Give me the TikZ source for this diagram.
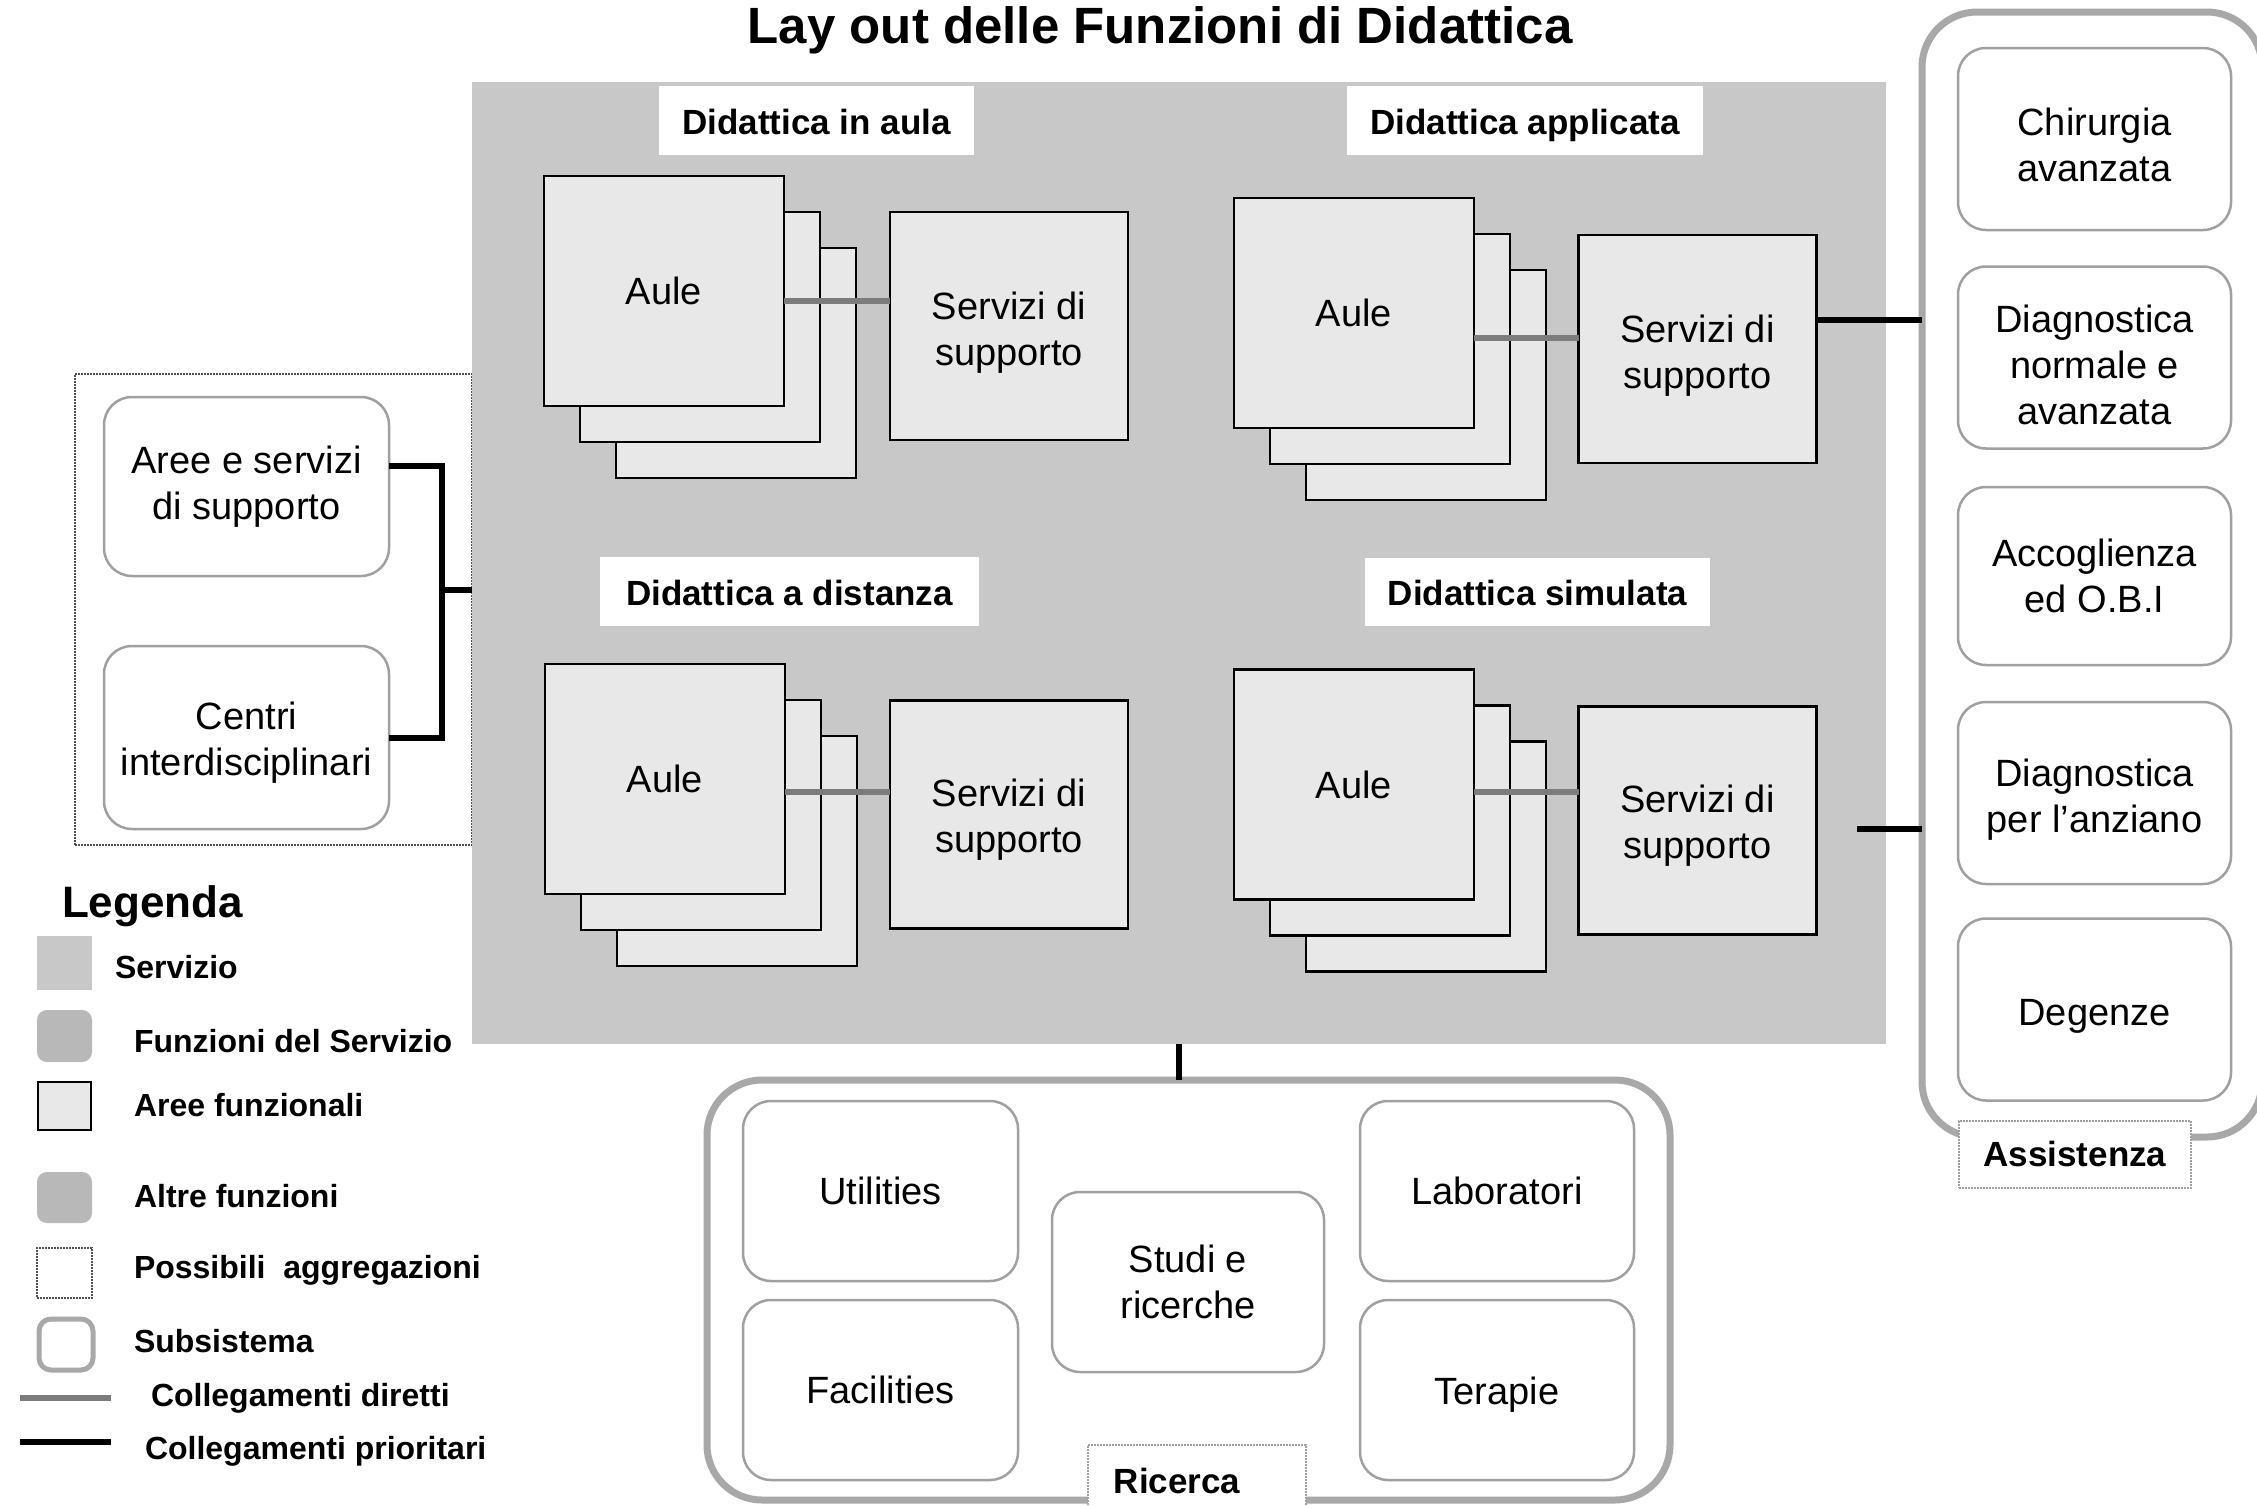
\documentclass[tikz,border=0pt]{standalone}
\usepackage{fontspec}
\setmainfont{Liberation Sans}
\definecolor{servgray}{HTML}{C8C8C8}
\definecolor{areagray}{HTML}{E8E8E8}
\definecolor{funzline}{HTML}{A0A0A0}
\definecolor{subgray}{HTML}{A8A8A8}
\definecolor{dirgray}{HTML}{7C7C7C}
\definecolor{agline}{HTML}{505050}
\definecolor{swgray}{HTML}{B8B8B8}
% invisible strut that lowers a centred box text a little
\newcommand\lift[1]{\rule{0pt}{#1}}
\begin{document}
\begin{tikzpicture}[x=1pt,y=-1pt,
  every node/.style={inner sep=0pt, outer sep=0pt},
  txt/.style={font=\fontsize{38}{46}\selectfont, align=center},
  head/.style={font=\bfseries\fontsize{35}{42}\selectfont, text height=30pt, text depth=7pt},
  servizio/.style={fill=servgray},
  area/.style={draw=black, line width=2.5pt, fill=areagray, txt},
  funz/.style={draw=funzline, line width=2.5pt, fill=white, rounded corners=28pt, txt},
  subsys/.style={draw=subgray, line width=7pt, rounded corners=55pt},
  aggr/.style={draw=agline, line width=2pt, densely dotted},
  hlabel/.style={fill=white, head, text height=34pt},
  sublabel/.style={fill=white, draw=funzline, line width=2pt, densely dotted},
  direct/.style={draw=dirgray, line width=6pt},
  priority/.style={draw=black, line width=6pt},
  leg/.style={anchor=west, font=\bfseries\fontsize{32}{38}\selectfont},
]
\useasboundingbox (0,0) rectangle (2257,1505);
\fill[white] (0,0) rectangle (2257,1505);

% title
\node[font=\bfseries\fontsize{51}{60}\selectfont] (title) at (1160,30) {Lay out delle Funzioni di Didattica};

% aggregation frame on the left
\node[aggr, minimum width=397pt, minimum height=471pt] (agg) at (273.5,609.5) {};
\node[funz, minimum width=285pt, minimum height=179pt] (aree) at (246.5,486.5) {Aree e servizi\\di supporto};
\node[funz, minimum width=285pt, minimum height=183pt] (centri) at (246.5,737.5) {\lift{37pt}Centri\\interdisciplinari};

% service area
\node[servizio, minimum width=1414pt, minimum height=962pt] (serv) at (1179,563) {};

% left priority links
\coordinate (lj) at (442,590);
\coordinate (la) at ([yshift=21pt]aree.east);
\draw[priority] (la) -| (lj) |- (centri.east);
\draw[priority] (lj) -- (lj -| serv.west);

% section headings
\node[hlabel, minimum width=315pt, minimum height=69pt] (hTL) at (816.5,120.5) {Didattica in aula};
\node[hlabel, minimum width=356pt, minimum height=69pt] (hTR) at (1525,120.5) {Didattica applicata};
\node[hlabel, minimum width=379pt, minimum height=69pt] (hBL) at (789.5,591.5) {Didattica a distanza};
\node[hlabel, minimum width=345pt, minimum height=68pt] (hBR) at (1537.5,592) {Didattica simulata};

% Didattica in aula
\node[area, minimum width=240pt, minimum height=230pt] (aTL3) at (736,363) {};
\node[area, minimum width=240pt, minimum height=230pt] (aTL2) at (700,327) {};
\node[area, minimum width=240pt, minimum height=230pt] (aTL1) at (664,291) {Aule};
\node[area, minimum width=238pt, minimum height=228pt] (sTL) at (1009,326) {\lift{40pt}Servizi di\\supporto};
\coordinate (cTL) at ([yshift=-10pt]aTL1.east);
\draw[direct] (cTL) -- (cTL -| sTL.west);

% Didattica applicata
\node[area, minimum width=240pt, minimum height=230pt] (aTR3) at (1426,385) {};
\node[area, minimum width=240pt, minimum height=230pt] (aTR2) at (1390,349) {};
\node[area, minimum width=240pt, minimum height=230pt] (aTR1) at (1354,313) {Aule};
\node[area, minimum width=238pt, minimum height=228pt] (sTR) at (1697.5,349) {\lift{40pt}Servizi di\\supporto};
\coordinate (cTR) at ([yshift=-25pt]aTR1.east);
\draw[direct] (cTR) -- (cTR -| sTR.west);

% Didattica a distanza
\node[area, minimum width=240pt, minimum height=230pt] (aBL3) at (737,851) {};
\node[area, minimum width=240pt, minimum height=230pt] (aBL2) at (701,815) {};
\node[area, minimum width=240pt, minimum height=230pt] (aBL1) at (665,779) {Aule};
\node[area, minimum width=238pt, minimum height=228pt] (sBL) at (1009,814.5) {\lift{37pt}Servizi di\\supporto};
\coordinate (cBL) at ([yshift=-13pt]aBL1.east);
\draw[direct] (cBL) -- (cBL -| sBL.west);

% Didattica simulata
\node[area, minimum width=240pt, minimum height=230pt] (aBR3) at (1426,856.5) {};
\node[area, minimum width=240pt, minimum height=230pt] (aBR2) at (1390,820.5) {};
\node[area, minimum width=240pt, minimum height=230pt] (aBR1) at (1354,784.5) {Aule};
\node[area, minimum width=238pt, minimum height=228pt] (sBR) at (1697.5,820.5) {\lift{37pt}Servizi di\\supporto};
\coordinate (cBR) at ([yshift=-7.5pt]aBR1.east);
\draw[direct] (cBR) -- (cBR -| sBR.west);

% Assistenza subsystem
\node[subsys, minimum width=340pt, minimum height=1125pt] (ass) at (2092,574.5) {};
\node[funz, minimum width=273pt, minimum height=182pt] (chir) at (2094.5,139) {\lift{40pt}Chirurgia\\avanzata};
\node[funz, minimum width=273pt, minimum height=182pt] (diag) at (2094.5,357.5) {\lift{42pt}Diagnostica\\normale e\\avanzata};
\node[funz, minimum width=273pt, minimum height=178pt] (acc) at (2094.5,576) {Accoglienza\\ed O.B.I};
\node[funz, minimum width=273pt, minimum height=182pt] (anz) at (2094.5,793) {\lift{40pt}Diagnostica\\per l’anziano};
\node[funz, minimum width=273pt, minimum height=182pt] (deg) at (2094.5,1009.5) {\lift{39pt}Degenze};
\node[sublabel, minimum width=232pt, minimum height=67pt] (assL) at (2075,1154.5) {};
\node[head] (assT) at (2075,1155) {Assistenza};
\coordinate (cA1) at ([yshift=29pt]sTR.east);
\draw[priority] (cA1) -- (cA1 -| ass.west);
\coordinate (cA2) at (1857,829);
\draw[priority] (cA2) -- (cA2 -| ass.west);

% Ricerca subsystem
\node[subsys, minimum width=963pt, minimum height=420pt] (ric) at (1188.5,1290) {};
\draw[priority] (serv.south) -- (serv.south |- ric.north);
\node[funz, minimum width=275pt, minimum height=180pt] (util) at (880.5,1191) {Utilities};
\node[funz, minimum width=275pt, minimum height=180pt] (fac) at (880.5,1390) {Facilities};
\node[funz, minimum width=272pt, minimum height=180pt] (studi) at (1188,1282) {Studi e\\ricerche};
\node[funz, minimum width=274pt, minimum height=180pt] (lab) at (1497,1191) {Laboratori};
\node[funz, minimum width=274pt, minimum height=180pt] (ter) at (1497,1390) {\lift{36pt}Terapie};
\node[sublabel, minimum width=218pt, minimum height=70pt] (ricL) at (1197,1480) {};
\node[head] (ricT) at (1177,1482) {Ricerca};

% legend
\node[font=\bfseries\fontsize{44}{52}\selectfont, anchor=west] (legT) at (62,906) {Legenda};
\node[fill=servgray, minimum width=55pt, minimum height=54pt] (sw1) at (64.5,963) {};
\node[fill=swgray, rounded corners=10pt, minimum width=55pt, minimum height=52pt] (sw2) at (64.5,1036) {};
\node[draw=black, line width=2.5pt, fill=areagray, minimum width=53pt, minimum height=48pt] (sw3) at (64.5,1106) {};
\node[fill=swgray, rounded corners=10pt, minimum width=55pt, minimum height=51pt] (sw4) at (64.5,1197.5) {};
\node[aggr, minimum width=55pt, minimum height=50pt] (sw5) at (64.5,1273) {};
\node[draw=subgray, line width=5pt, rounded corners=12pt, minimum width=54pt, minimum height=51pt] (sw6) at (66,1344.5) {};
\coordinate (ld1) at (20,1398);
\coordinate (ld2) at (111,1398);
\draw[direct] (ld1) -- (ld2);
\coordinate (lp1) at (20,1442);
\coordinate (lp2) at (111,1442);
\draw[priority] (lp1) -- (lp2);
\node[leg] (l1) at (115,967) {Servizio};
\node[leg] (l2) at (134,1041) {Funzioni del Servizio};
\node[leg] (l3) at (134,1105) {Aree funzionali};
\node[leg] (l4) at (134,1196) {Altre funzioni};
\node[leg] (l5) at (134,1270) {Possibili\ \ aggregazioni};
\node[leg] (l6) at (134,1341) {Subsistema};
\node[leg] (l7) at (151,1398) {Collegamenti diretti};
\node[leg] (l8) at (145,1451) {Collegamenti prioritari};
\end{tikzpicture}
\end{document}
